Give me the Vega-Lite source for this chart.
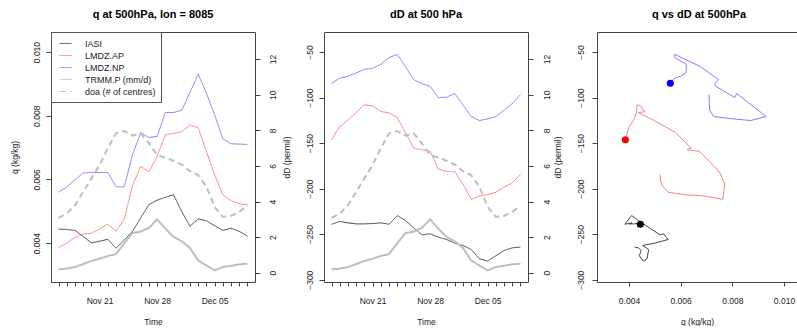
{
  "$schema": "https://vega.github.io/schema/vega-lite/v6.json",
  "padding": {"left": 10, "top": 8, "right": 0, "bottom": 0},
  "config": {
    "font": "Liberation Sans",
    "view": {"stroke": null},
    "axis": {"grid": false, "domain": true, "domainColor": "#444444", "domainWidth": 1, "tickColor": "#444444", "tickSize": 5, "labelFontSize": 8.5, "labelColor": "#222222", "titleFontSize": 8.5, "titleFontWeight": "normal", "titleColor": "#222222", "labelFlush": false, "labelOverlap": false, "labelBound": false},
    "title": {"fontSize": 11, "fontWeight": "bold", "frame": "group", "anchor": "middle", "offset": 12, "color": "#000000"}
  },
  "datasets": {
    "main": [
      {"date":"2011-11-16","series":"IASI","q":0.00444,"dD":-239.1},
      {"date":"2011-11-17","series":"IASI","q":0.00443,"dD":-236.1},
      {"date":"2011-11-18","series":"IASI","q":0.00440,"dD":-237.6},
      {"date":"2011-11-19","series":"IASI","q":0.00421,"dD":-238.7},
      {"date":"2011-11-20","series":"IASI","q":0.00401,"dD":-238.7},
      {"date":"2011-11-21","series":"IASI","q":0.00406,"dD":-238.3},
      {"date":"2011-11-22","series":"IASI","q":0.00412,"dD":-237.6},
      {"date":"2011-11-23","series":"IASI","q":0.00384,"dD":-239.1},
      {"date":"2011-11-24","series":"IASI","q":0.00410,"dD":-229.6},
      {"date":"2011-11-25","series":"IASI","q":0.00437,"dD":-235.0},
      {"date":"2011-11-26","series":"IASI","q":0.00479,"dD":-243.1},
      {"date":"2011-11-27","series":"IASI","q":0.00521,"dD":-250.7},
      {"date":"2011-11-28","series":"IASI","q":0.00535,"dD":-249.6},
      {"date":"2011-11-29","series":"IASI","q":0.00544,"dD":-253.3},
      {"date":"2011-11-30","series":"IASI","q":0.00552,"dD":-255.8},
      {"date":"2011-12-01","series":"IASI","q":0.00499,"dD":-259.9},
      {"date":"2011-12-02","series":"IASI","q":0.00453,"dD":-262.4},
      {"date":"2011-12-03","series":"IASI","q":0.00476,"dD":-266.8},
      {"date":"2011-12-04","series":"IASI","q":0.00470,"dD":-277.0},
      {"date":"2011-12-05","series":"IASI","q":0.00455,"dD":-279.6},
      {"date":"2011-12-06","series":"IASI","q":0.00440,"dD":-273.7},
      {"date":"2011-12-07","series":"IASI","q":0.00447,"dD":-267.9},
      {"date":"2011-12-08","series":"IASI","q":0.00437,"dD":-265.0},
      {"date":"2011-12-09","series":"IASI","q":0.00422,"dD":-264.2},
      {"date":"2011-11-16","series":"LMDZ.AP","q":0.00386,"dD":-146.4},
      {"date":"2011-11-17","series":"LMDZ.AP","q":0.00400,"dD":-132.1},
      {"date":"2011-11-18","series":"LMDZ.AP","q":0.00418,"dD":-124.8},
      {"date":"2011-11-19","series":"LMDZ.AP","q":0.00429,"dD":-116.4},
      {"date":"2011-11-20","series":"LMDZ.AP","q":0.00431,"dD":-108.0},
      {"date":"2011-11-21","series":"LMDZ.AP","q":0.00445,"dD":-109.1},
      {"date":"2011-11-22","series":"LMDZ.AP","q":0.00460,"dD":-115.3},
      {"date":"2011-11-23","series":"LMDZ.AP","q":0.00437,"dD":-116.8},
      {"date":"2011-11-24","series":"LMDZ.AP","q":0.00476,"dD":-121.9},
      {"date":"2011-11-25","series":"LMDZ.AP","q":0.00580,"dD":-138.3},
      {"date":"2011-11-26","series":"LMDZ.AP","q":0.00641,"dD":-155.5},
      {"date":"2011-11-27","series":"LMDZ.AP","q":0.00624,"dD":-157.3},
      {"date":"2011-11-28","series":"LMDZ.AP","q":0.00673,"dD":-159.1},
      {"date":"2011-11-29","series":"LMDZ.AP","q":0.00740,"dD":-178.5},
      {"date":"2011-11-30","series":"LMDZ.AP","q":0.00745,"dD":-181.0},
      {"date":"2011-12-01","series":"LMDZ.AP","q":0.00750,"dD":-181.4},
      {"date":"2011-12-02","series":"LMDZ.AP","q":0.00771,"dD":-194.9},
      {"date":"2011-12-03","series":"LMDZ.AP","q":0.00763,"dD":-211.7},
      {"date":"2011-12-04","series":"LMDZ.AP","q":0.00688,"dD":-208.0},
      {"date":"2011-12-05","series":"LMDZ.AP","q":0.00615,"dD":-206.6},
      {"date":"2011-12-06","series":"LMDZ.AP","q":0.00552,"dD":-204.0},
      {"date":"2011-12-07","series":"LMDZ.AP","q":0.00533,"dD":-198.2},
      {"date":"2011-12-08","series":"LMDZ.AP","q":0.00524,"dD":-193.8},
      {"date":"2011-12-09","series":"LMDZ.AP","q":0.00520,"dD":-184.3},
      {"date":"2011-11-16","series":"LMDZ.NP","q":0.00560,"dD":-84.3},
      {"date":"2011-11-17","series":"LMDZ.NP","q":0.00576,"dD":-78.8},
      {"date":"2011-11-18","series":"LMDZ.NP","q":0.00599,"dD":-76.6},
      {"date":"2011-11-19","series":"LMDZ.NP","q":0.00620,"dD":-73.0},
      {"date":"2011-11-20","series":"LMDZ.NP","q":0.00622,"dD":-69.0},
      {"date":"2011-11-21","series":"LMDZ.NP","q":0.00622,"dD":-67.9},
      {"date":"2011-11-22","series":"LMDZ.NP","q":0.00622,"dD":-63.5},
      {"date":"2011-11-23","series":"LMDZ.NP","q":0.00577,"dD":-56.2},
      {"date":"2011-11-24","series":"LMDZ.NP","q":0.00577,"dD":-52.6},
      {"date":"2011-11-25","series":"LMDZ.NP","q":0.00677,"dD":-66.1},
      {"date":"2011-11-26","series":"LMDZ.NP","q":0.00747,"dD":-80.3},
      {"date":"2011-11-27","series":"LMDZ.NP","q":0.00732,"dD":-84.7},
      {"date":"2011-11-28","series":"LMDZ.NP","q":0.00735,"dD":-87.6},
      {"date":"2011-11-29","series":"LMDZ.NP","q":0.00810,"dD":-100.0},
      {"date":"2011-11-30","series":"LMDZ.NP","q":0.00810,"dD":-99.6},
      {"date":"2011-12-01","series":"LMDZ.NP","q":0.00817,"dD":-95.6},
      {"date":"2011-12-02","series":"LMDZ.NP","q":0.00873,"dD":-108.0},
      {"date":"2011-12-03","series":"LMDZ.NP","q":0.00931,"dD":-120.8},
      {"date":"2011-12-04","series":"LMDZ.NP","q":0.00871,"dD":-125.2},
      {"date":"2011-12-05","series":"LMDZ.NP","q":0.00803,"dD":-123.4},
      {"date":"2011-12-06","series":"LMDZ.NP","q":0.00728,"dD":-120.8},
      {"date":"2011-12-07","series":"LMDZ.NP","q":0.00712,"dD":-113.9},
      {"date":"2011-12-08","series":"LMDZ.NP","q":0.00711,"dD":-106.6},
      {"date":"2011-12-09","series":"LMDZ.NP","q":0.00710,"dD":-96.7},
      {"date":"2011-11-16","series":"TRMM.P (mm/d)","v":0.19},
      {"date":"2011-11-17","series":"TRMM.P (mm/d)","v":0.23},
      {"date":"2011-11-18","series":"TRMM.P (mm/d)","v":0.32},
      {"date":"2011-11-19","series":"TRMM.P (mm/d)","v":0.49},
      {"date":"2011-11-20","series":"TRMM.P (mm/d)","v":0.66},
      {"date":"2011-11-21","series":"TRMM.P (mm/d)","v":0.79},
      {"date":"2011-11-22","series":"TRMM.P (mm/d)","v":0.94},
      {"date":"2011-11-23","series":"TRMM.P (mm/d)","v":1.05},
      {"date":"2011-11-24","series":"TRMM.P (mm/d)","v":1.65},
      {"date":"2011-11-25","series":"TRMM.P (mm/d)","v":2.23},
      {"date":"2011-11-26","series":"TRMM.P (mm/d)","v":2.31},
      {"date":"2011-11-27","series":"TRMM.P (mm/d)","v":2.52},
      {"date":"2011-11-28","series":"TRMM.P (mm/d)","v":3.00},
      {"date":"2011-11-29","series":"TRMM.P (mm/d)","v":2.48},
      {"date":"2011-11-30","series":"TRMM.P (mm/d)","v":2.01},
      {"date":"2011-12-01","series":"TRMM.P (mm/d)","v":1.77},
      {"date":"2011-12-02","series":"TRMM.P (mm/d)","v":1.39},
      {"date":"2011-12-03","series":"TRMM.P (mm/d)","v":0.69},
      {"date":"2011-12-04","series":"TRMM.P (mm/d)","v":0.41},
      {"date":"2011-12-05","series":"TRMM.P (mm/d)","v":0.13},
      {"date":"2011-12-06","series":"TRMM.P (mm/d)","v":0.32},
      {"date":"2011-12-07","series":"TRMM.P (mm/d)","v":0.39},
      {"date":"2011-12-08","series":"TRMM.P (mm/d)","v":0.47},
      {"date":"2011-12-09","series":"TRMM.P (mm/d)","v":0.51},
      {"date":"2011-11-16","series":"doa (# of centres)","v":3.08},
      {"date":"2011-11-17","series":"doa (# of centres)","v":3.32},
      {"date":"2011-11-18","series":"doa (# of centres)","v":3.79},
      {"date":"2011-11-19","series":"doa (# of centres)","v":4.54},
      {"date":"2011-11-20","series":"doa (# of centres)","v":5.30},
      {"date":"2011-11-21","series":"doa (# of centres)","v":6.05},
      {"date":"2011-11-22","series":"doa (# of centres)","v":6.99},
      {"date":"2011-11-23","series":"doa (# of centres)","v":7.83},
      {"date":"2011-11-24","series":"doa (# of centres)","v":7.96},
      {"date":"2011-11-25","series":"doa (# of centres)","v":7.70},
      {"date":"2011-11-26","series":"doa (# of centres)","v":7.83},
      {"date":"2011-11-27","series":"doa (# of centres)","v":7.27},
      {"date":"2011-11-28","series":"doa (# of centres)","v":6.61},
      {"date":"2011-11-29","series":"doa (# of centres)","v":6.46},
      {"date":"2011-11-30","series":"doa (# of centres)","v":6.29},
      {"date":"2011-12-01","series":"doa (# of centres)","v":6.08},
      {"date":"2011-12-02","series":"doa (# of centres)","v":5.71},
      {"date":"2011-12-03","series":"doa (# of centres)","v":5.48},
      {"date":"2011-12-04","series":"doa (# of centres)","v":4.83},
      {"date":"2011-12-05","series":"doa (# of centres)","v":3.70},
      {"date":"2011-12-06","series":"doa (# of centres)","v":3.14},
      {"date":"2011-12-07","series":"doa (# of centres)","v":3.19},
      {"date":"2011-12-08","series":"doa (# of centres)","v":3.42},
      {"date":"2011-12-09","series":"doa (# of centres)","v":3.76}
    ]
  },
  "spacing": 69,
  "bounds": "flush",
  "resolve": {"scale": {"color": "independent", "strokeDash": "independent", "fill": "independent"}},
  "hconcat": [
    {
      "width": 204,
      "height": 250,
      "title": "q at 500hPa, lon = 8085",
      "data": {"name": "main"},
      "layer": [
        {
          "transform": [{"filter": "isValid(datum.q)"}],
          "mark": {"type": "line", "strokeWidth": 1},
          "encoding": {
            "x": {"field": "date", "type": "temporal",
              "scale": {"type": "utc", "domain": [{"year": 2011, "month": 11, "date": 15, "hours": 2, "utc": true}, {"year": 2011, "month": 12, "date": 9, "hours": 22, "utc": true}]},
              "axis": {"title": "Time", "tickCount": {"interval": "day", "step": 1}, "labelExpr": "indexof(['Nov 21','Nov 28','Dec 05'], utcFormat(datum.value, '%b %d')) >= 0 ? utcFormat(datum.value, '%b %d') : ''", "tickSize": 4, "labelPadding": 14, "labelBaseline": "middle", "titleX": 102, "titleY": 39, "titleBaseline": "middle"}},
            "y": {"field": "q", "type": "quantitative", "scale": {"domain": [0.00278, 0.01063], "nice": false, "zero": false},
              "axis": {"title": "q (kg/kg)", "values": [0.004, 0.006, 0.008, 0.010], "format": ".3f", "labelAngle": 270, "labelAlign": "center", "labelBaseline": "middle", "labelPadding": 10, "titleX": -37, "titleY": 125, "titleAngle": 270, "titleAlign": "center", "titleBaseline": "middle"}},
            "color": {"field": "series", "type": "nominal",
              "scale": {"domain": ["IASI", "LMDZ.AP", "LMDZ.NP", "TRMM.P (mm/d)", "doa (# of centres)"], "range": ["#484848", "#FF8080", "#8080FF", "#BEBEBE", "#BEBEBE"]},
              "legend": {"title": null, "orient": "none", "legendX": 0, "legendY": 0, "fillColor": "white", "strokeColor": "#555555", "padding": 5, "symbolType": "stroke", "symbolSize": 144, "symbolStrokeWidth": 1, "symbolOffset": 3, "labelFontSize": 9, "labelOffset": 13, "rowPadding": 0, "labelColor": "#222222"}},
            "strokeDash": {"field": "series", "type": "nominal",
              "scale": {"domain": ["IASI", "LMDZ.AP", "LMDZ.NP", "TRMM.P (mm/d)", "doa (# of centres)"], "range": [[1, 0], [1, 0], [1, 0], [1, 0], [6, 4]]},
              "legend": {"title": null, "orient": "none", "legendX": 0, "legendY": 0, "fillColor": "white", "strokeColor": "#555555", "padding": 5, "symbolType": "stroke", "symbolSize": 144, "symbolStrokeWidth": 1, "symbolOffset": 3, "labelFontSize": 9, "labelOffset": 13, "rowPadding": 0, "labelColor": "#222222"}}
          }
        },
        {
          "transform": [{"filter": "isValid(datum.v)"}],
          "mark": {"type": "line", "strokeWidth": 2},
          "encoding": {
            "x": {"field": "date", "type": "temporal",
              "axis": {"orient": "top", "title": null, "labels": false, "ticks": false, "domain": true}},
            "y": {"field": "v", "type": "quantitative", "scale": {"domain": [-0.52, 13.52], "nice": false, "zero": false},
              "axis": {"orient": "right", "title": null, "values": [0, 2, 4, 6, 8, 10, 12], "labelAngle": 270, "labelAlign": "center", "labelBaseline": "middle", "labelPadding": 12}},
            "color": {"field": "series", "type": "nominal"},
            "strokeDash": {"field": "series", "type": "nominal"}
          }
        }
      ],
      "resolve": {"scale": {"y": "independent"}, "axis": {"x": "independent"}}
    },
    {
      "width": 204,
      "height": 250,
      "title": "dD at 500 hPa",
      "data": {"name": "main"},
      "layer": [
        {
          "transform": [{"filter": "isValid(datum.dD)"}],
          "mark": {"type": "line", "strokeWidth": 1},
          "encoding": {
            "x": {"field": "date", "type": "temporal",
              "scale": {"type": "utc", "domain": [{"year": 2011, "month": 11, "date": 15, "hours": 2, "utc": true}, {"year": 2011, "month": 12, "date": 9, "hours": 22, "utc": true}]},
              "axis": {"title": "Time", "tickCount": {"interval": "day", "step": 1}, "labelExpr": "indexof(['Nov 21','Nov 28','Dec 05'], utcFormat(datum.value, '%b %d')) >= 0 ? utcFormat(datum.value, '%b %d') : ''", "tickSize": 4, "labelPadding": 14, "labelBaseline": "middle", "titleX": 102, "titleY": 39, "titleBaseline": "middle"}},
            "y": {"field": "dD", "type": "quantitative", "scale": {"domain": [-302.5, -28], "nice": false, "zero": false},
              "axis": {"title": "dD (permil)", "values": [-300, -250, -200, -150, -100, -50], "labelAngle": 270, "labelAlign": "center", "labelBaseline": "middle", "labelPadding": 10, "titleX": -38, "titleY": 125, "titleAngle": 270, "titleAlign": "center", "titleBaseline": "middle"}},
            "color": {"field": "series", "type": "nominal",
              "scale": {"domain": ["IASI", "LMDZ.AP", "LMDZ.NP", "TRMM.P (mm/d)", "doa (# of centres)"], "range": ["#484848", "#FF8080", "#8080FF", "#BEBEBE", "#BEBEBE"]},
              "legend": null},
            "strokeDash": {"field": "series", "type": "nominal",
              "scale": {"domain": ["IASI", "LMDZ.AP", "LMDZ.NP", "TRMM.P (mm/d)", "doa (# of centres)"], "range": [[1, 0], [1, 0], [1, 0], [1, 0], [6, 4]]},
              "legend": null}
          }
        },
        {
          "transform": [{"filter": "isValid(datum.v)"}],
          "mark": {"type": "line", "strokeWidth": 2},
          "encoding": {
            "x": {"field": "date", "type": "temporal",
              "axis": {"orient": "top", "title": null, "labels": false, "ticks": false, "domain": true}},
            "y": {"field": "v", "type": "quantitative", "scale": {"domain": [-0.52, 13.52], "nice": false, "zero": false},
              "axis": {"orient": "right", "title": null, "values": [0, 2, 4, 6, 8, 10, 12], "labelAngle": 270, "labelAlign": "center", "labelBaseline": "middle", "labelPadding": 13}},
            "color": {"field": "series", "type": "nominal"},
            "strokeDash": {"field": "series", "type": "nominal"}
          }
        }
      ],
      "resolve": {"scale": {"y": "independent"}, "axis": {"x": "independent"}}
    },
    {
      "width": 200,
      "height": 250,
      "title": {"text": "q vs dD at 500hPa", "dx": 2},
      "data": {"name": "main"},
      "transform": [{"filter": "isValid(datum.q)"}],
      "layer": [
        {
          "mark": {"type": "line", "strokeWidth": 1},
          "encoding": {
            "x": {"field": "q", "type": "quantitative", "scale": {"domain": [0.002762, 0.010503], "nice": false, "zero": false},
              "axis": {"title": "q (kg/kg)", "values": [0.004, 0.006, 0.008, 0.010], "format": ".3f", "tickSize": 4, "labelPadding": 14, "labelBaseline": "middle", "titleX": 100, "titleY": 39, "titleBaseline": "middle"}},
            "y": {"field": "dD", "type": "quantitative", "scale": {"domain": [-302.5, -28], "nice": false, "zero": false},
              "axis": {"title": "dD (permil)", "values": [-300, -250, -200, -150, -100, -50], "labelAngle": 270, "labelAlign": "center", "labelBaseline": "middle", "labelPadding": 12, "titleX": -40, "titleY": 125, "titleAngle": 270, "titleAlign": "center", "titleBaseline": "middle"}},
            "order": {"field": "date", "type": "temporal"},
            "color": {"field": "series", "type": "nominal",
              "scale": {"domain": ["IASI", "LMDZ.AP", "LMDZ.NP"], "range": ["#484848", "#FF8080", "#8080FF"]},
              "legend": null}
          }
        },
        {
          "transform": [{"filter": "utcFormat(toDate(datum.date), '%Y-%m-%d') == '2011-11-16'"}],
          "mark": {"type": "circle", "size": 50, "opacity": 1},
          "encoding": {
            "x": {"field": "q", "type": "quantitative",
              "axis": {"orient": "top", "title": null, "labels": false, "ticks": false, "domain": true}},
            "y": {"field": "dD", "type": "quantitative"},
            "fill": {"field": "series", "type": "nominal",
              "scale": {"domain": ["IASI", "LMDZ.AP", "LMDZ.NP"], "range": ["#000000", "#FF0000", "#0000FF"]},
              "legend": null}
          }
        }
      ],
      "resolve": {"axis": {"x": "independent"}}
    }
  ]
}
